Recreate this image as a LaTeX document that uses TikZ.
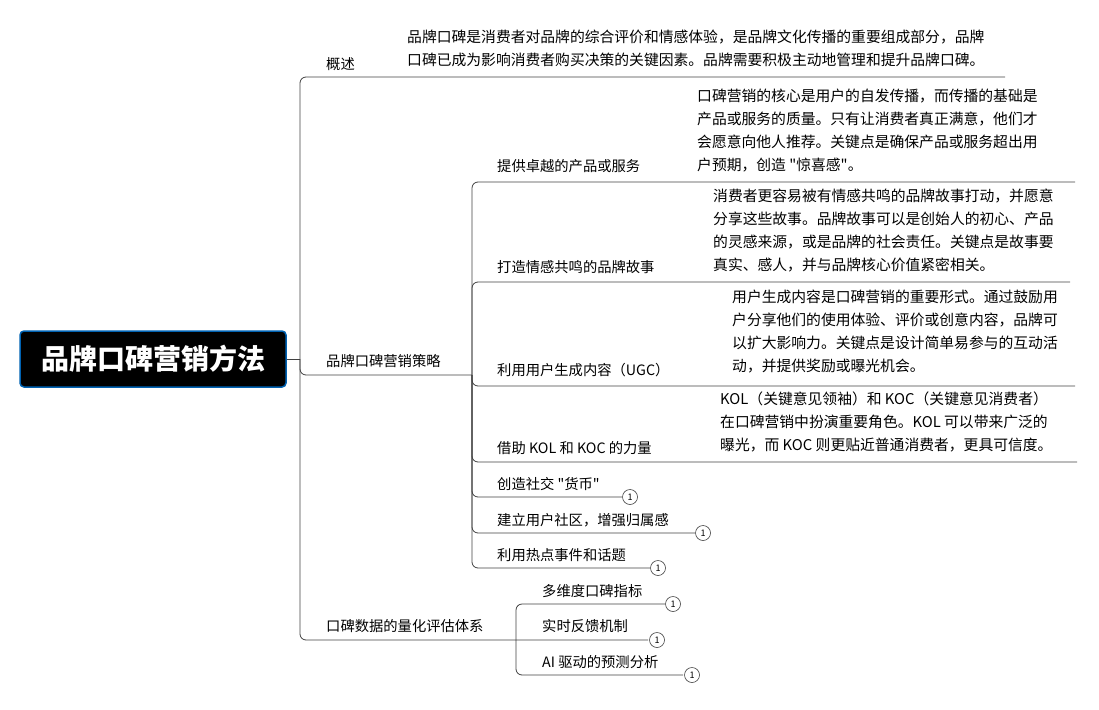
\documentclass[tikz,border=0pt]{standalone}
\usepackage{fontspec}
\setmainfont{Noto Sans CJK SC}
\newfontfamily\plainqf{Noto Sans CJK SC}
\newcommand{\q}{{\plainqf"}}
\begin{document}
\begin{tikzpicture}[x=1pt,y=-1pt,
  ln/.style={draw=black!75,line width=0.8pt,rounded corners=6pt},
  lbl/.style={anchor=base west,inner sep=0pt,font=\fontsize{14.3}{16}\selectfont},
  desc/.style={anchor=north west,inner sep=0pt,align=left,font=\fontsize{14.8}{23}\selectfont},
  badge/.style={circle,draw=black!75,fill=white,line width=0.6pt,minimum size=15pt,inner sep=0pt,font=\fontsize{9}{9}\selectfont}]
\useasboundingbox (0,0) rectangle (1099,709);
\node[draw=blue!45!cyan!70!black,line width=1.5pt,fill=black,rounded corners=4pt,minimum width=266pt,minimum height=56pt,text=white,font=\fontsize{28}{32}\bfseries\selectfont] (root) at (153,359) {品牌口碑营销方法};
\coordinate (j0) at (300,359);
\draw[ln] (root.east) -- (j0);
\draw[ln] (j0) -- (300,77) -- (1005,77);
\draw[ln] (j0) -- (300,375) -- (472,375);
\draw[ln] (j0) -- (300,640) -- (648,640);
\node[lbl] (n1) at (326,69) {概述};
\node[desc] (d1) at (407,30) {品牌口碑是消费者对品牌的综合评价和情感体验，是品牌文化传播的重要组成部分，品牌\\口碑已成为影响消费者购买决策的关键因素。品牌需要积极主动地管理和提升品牌口碑。};
\node[lbl] (n2) at (326,366) {品牌口碑营销策略};
\node[lbl] (n3) at (326,631) {口碑数据的量化评估体系};
\coordinate (j1) at (472,375);
\draw[ln] (j1) -- (472,182) -- (1075,182);
\draw[ln] (j1) -- (472,282) -- (1070,282);
\draw[ln] (j1) -- (472,386) -- (1075,386);
\draw[ln] (j1) -- (472,462) -- (1077,462);
\draw[ln] (j1) -- (472,497) -- (622,497);
\draw[ln] (j1) -- (472,533) -- (695,533);
\draw[ln] (j1) -- (472,568) -- (650,568);
\node[lbl] (a1) at (497,171) {提供卓越的产品或服务};
\node[desc] (da1) at (697,89) {口碑营销的核心是用户的自发传播，而传播的基础是\\产品或服务的质量。只有让消费者真正满意，他们才\\会愿意向他人推荐。关键点是确保产品或服务超出用\\户预期，创造 \q 惊喜感\q 。};
\node[lbl] (a2) at (497,272) {打造情感共鸣的品牌故事};
\node[desc] (da2) at (713,189) {消费者更容易被有情感共鸣的品牌故事打动，并愿意\\分享这些故事。品牌故事可以是创始人的初心、产品\\的灵感来源，或是品牌的社会责任。关键点是故事要\\真实、感人，并与品牌核心价值紧密相关。};
\node[lbl] (a3) at (497,375) {利用用户生成内容（UGC）};
\node[desc] (da3) at (732,290) {用户生成内容是口碑营销的重要形式。通过鼓励用\\户分享他们的使用体验、评价或创意内容，品牌可\\以扩大影响力。关键点是设计简单易参与的互动活\\动，并提供奖励或曝光机会。};
\node[lbl] (a4) at (497,453) {借助 KOL 和 KOC 的力量};
\node[desc] (da4) at (720,392) {KOL（关键意见领袖）和 KOC（关键意见消费者）\\在口碑营销中扮演重要角色。KOL 可以带来广泛的\\曝光，而 KOC 则更贴近普通消费者，更具可信度。};
\node[lbl] (a5) at (497,489) {创造社交 \q 货币\q };
\node[badge] (b5) at (630,497) {1};
\node[lbl] (a6) at (497,525) {建立用户社区，增强归属感};
\node[badge] (b6) at (703,533) {1};
\node[lbl] (a7) at (497,560) {利用热点事件和话题};
\node[badge] (b7) at (658,568) {1};
\coordinate (j2) at (516,640);
\draw[ln] (j2) -- (516,604) -- (665,604);
\draw[ln] (j2) -- (516,675) -- (683,675);
\node[lbl] (c1) at (542,596) {多维度口碑指标};
\node[badge] (bc1) at (673,604) {1};
\node[lbl] (c2) at (542,631) {实时反馈机制};
\node[badge] (bc2) at (657,640) {1};
\node[lbl] (c3) at (542,667) {AI 驱动的预测分析};
\node[badge] (bc3) at (692,675) {1};
\end{tikzpicture}
\end{document}
